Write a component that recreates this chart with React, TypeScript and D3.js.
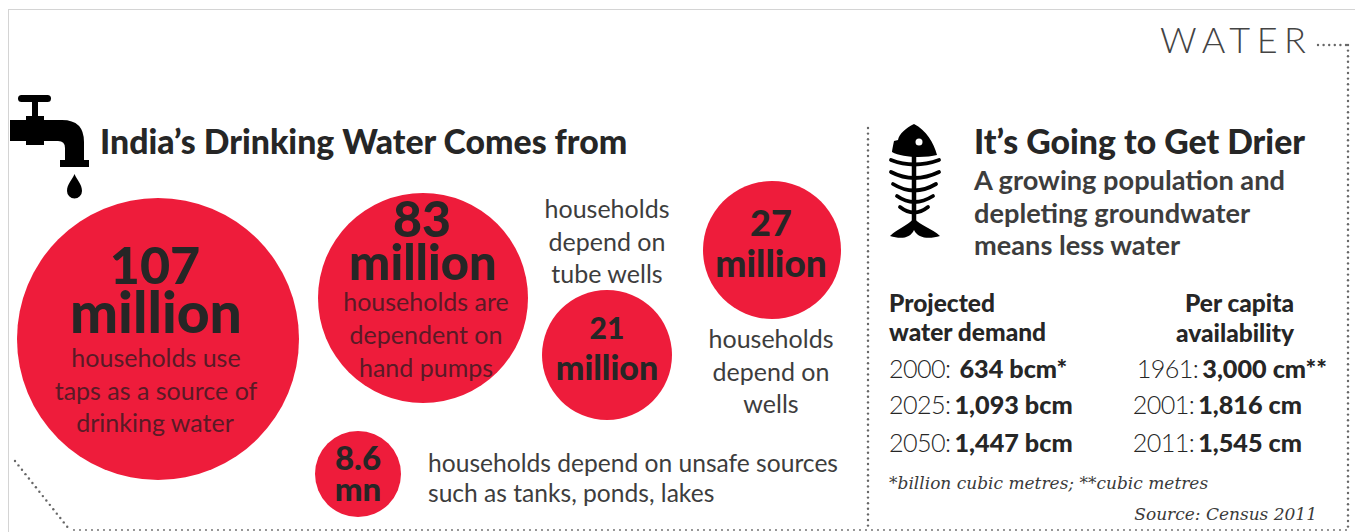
import React from "react";
import * as d3 from "d3";

const W = 1355;
const H = 532;
const RED = "#ee1c3b";
const INK = "#262626";
const SOFT = "#3d3d3d";
const ON_RED = "#5a1a26";
const SANS = "Lato, 'Open Sans', sans-serif";
const SERIF = "'DejaVu Serif', 'Liberation Serif', serif";

// Households, in millions, by source of drinking water
const sourceNames = ["Taps", "Hand pumps", "Wells", "Tube wells", "Unsafe sources"];
const households = [107, 83, 27, 21, 8.6];
const bubbleCx = [158, 423, 772, 607, 358];
const bubbleCy = [339, 298, 250, 355, 474];

// The bubbles are sized by eye rather than strictly by area, so this scale is piecewise
const sortedHouseholds = [8.6, 21, 27, 83, 107];
const bubbleRadii = [43, 65, 69, 105, 141];
const radius = d3.scaleLinear().domain(sortedHouseholds).range(bubbleRadii);

const demandYears = ["2000:", "2025:", "2050:"];
const demandValues = ["634 bcm*", "1,093 bcm", "1,447 bcm"];
const demandGaps = [9, 4, 4];
const availabilityYears = ["1961:", "2001:", "2011:"];
const availabilityValues = ["3,000 cm**", "1,816 cm", "1,545 cm"];
const availabilityRight = [1327, 1302, 1302];
const rowBaselines = [378, 414, 452];

type Line = { t: string; x: number; y: number; size: number; weight?: number; fill?: string; anchor?: string; family?: string; italic?: boolean; spacing?: number };

const textLines: Line[] = [
  { t: "India’s Drinking Water Comes from", x: 100, y: 154, size: 33.8, weight: 900, anchor: "start" },
  { t: "107", x: 155, y: 284, size: 52, weight: 900 },
  { t: "million", x: 156, y: 333, size: 57, weight: 900 },
  { t: "households use", x: 156, y: 367, size: 25, fill: ON_RED },
  { t: "taps as a source of", x: 156, y: 400, size: 25, fill: ON_RED },
  { t: "drinking water", x: 155, y: 432, size: 25, fill: ON_RED },
  { t: "83", x: 422, y: 237, size: 50, weight: 900 },
  { t: "million", x: 423, y: 280, size: 49, weight: 900 },
  { t: "households are", x: 426, y: 311, size: 25, fill: ON_RED },
  { t: "dependent on", x: 426, y: 344, size: 25, fill: ON_RED },
  { t: "hand pumps", x: 426, y: 377, size: 25, fill: ON_RED },
  { t: "households", x: 607, y: 218, size: 25, fill: SOFT },
  { t: "depend on", x: 607, y: 251, size: 25, fill: SOFT },
  { t: "tube wells", x: 607, y: 283, size: 25, fill: SOFT },
  { t: "21", x: 607, y: 339, size: 30, weight: 900 },
  { t: "million", x: 607, y: 380, size: 34, weight: 900 },
  { t: "27", x: 771, y: 236, size: 36, weight: 900 },
  { t: "million", x: 771, y: 277, size: 37, weight: 900 },
  { t: "households", x: 771, y: 348, size: 25, fill: SOFT },
  { t: "depend on", x: 771, y: 381, size: 25, fill: SOFT },
  { t: "wells", x: 771, y: 413, size: 25, fill: SOFT },
  { t: "8.6", x: 358, y: 470, size: 33, weight: 900 },
  { t: "mn", x: 358, y: 501, size: 33, weight: 900 },
  { t: "households depend on unsafe sources", x: 428, y: 472, size: 24.6, anchor: "start", fill: SOFT },
  { t: "such as tanks, ponds, lakes", x: 428, y: 502, size: 24.6, anchor: "start", fill: SOFT },
  { t: "It’s Going to Get Drier", x: 974, y: 154, size: 33.8, weight: 900, anchor: "start" },
  { t: "A growing population and", x: 974, y: 190, size: 27.2, weight: 700, anchor: "start", fill: SOFT },
  { t: "depleting groundwater", x: 974, y: 223, size: 27.2, weight: 700, anchor: "start", fill: SOFT },
  { t: "means less water", x: 974, y: 255, size: 27.2, weight: 700, anchor: "start", fill: SOFT },
  { t: "Projected", x: 889, y: 312, size: 24.5, weight: 900, anchor: "start" },
  { t: "water demand", x: 889, y: 341, size: 24.5, weight: 900, anchor: "start" },
  { t: "Per capita", x: 1294, y: 312, size: 24.5, weight: 900, anchor: "end" },
  { t: "availability", x: 1294, y: 342, size: 24.5, weight: 900, anchor: "end" },
  { t: "*billion cubic metres; **cubic metres", x: 889, y: 489, size: 17, family: SERIF, italic: true, anchor: "start", fill: "#3a3a3a" },
  { t: "Source: Census 2011", x: 1317, y: 520, size: 17, family: SERIF, italic: true, anchor: "end", fill: "#3a3a3a" },
  { t: "WATER", x: 1160, y: 53, size: 36, weight: 300, anchor: "start", fill: "#444", spacing: 6.5 },
];

// A dotted rule drawn as a line of round dots
function Dotted({ x1, y1, x2, y2, step = 5.6, r = 1.2 }: { x1: number; y1: number; x2: number; y2: number; step?: number; r?: number }) {
  const len = Math.hypot(x2 - x1, y2 - y1);
  const along = d3.range(0, len + 0.01, step);
  return (
    <g fill="#666">
      {along.map((d) => (
        <circle key={d} cx={x1 + ((x2 - x1) * d) / len} cy={y1 + ((y2 - y1) * d) / len} r={r} />
      ))}
    </g>
  );
}

function Tap() {
  return (
    <g fill="#000">
      <rect x={18} y={95} width={33} height={7} rx={3.5} />
      <rect x={32} y={100} width={6} height={16} />
      <path d="M10 120 H26 V116 H44 V120 H62 Q84 120 84 142 V160 H89 V167 H60 V160 H65 V148 Q65 141 58 141 H44 V145 H26 V141 H10 Z" />
      <path d="M74.500 174 C77 180 82 184 82 191 A7.500 7.500 0 0 1 67 191 C67 184 72 180 74.500 174 Z" />
    </g>
  );
}

function Fish() {
  const ribs = [
    [891, 160, 914, 169, 939, 160],
    [891, 172, 914, 184, 939, 172],
    [893, 184, 914, 197, 936, 184],
    [897, 196, 914, 208, 933, 196],
    [900, 207, 914, 218, 928, 207],
  ];
  return (
    <g>
      <path d="M914 124 C906 128 899 134 898 140 L894 141 C893 146 892 150 892 152 C902 158 926 158 937 155 C934 143 926 130 914 124 Z" fill="#000" />
      <circle cx={919} cy={142} r={3.500} fill="#fff" />
      <line x1={914} y1={150} x2={914} y2={226} stroke="#000" strokeWidth={4.500} />
      {ribs.map((r, i) => (
        <path key={i} d={`M${r[0]} ${r[1]} Q${r[2]} ${r[3]} ${r[4]} ${r[5]}`} fill="none" stroke="#000" strokeWidth={3.800} strokeLinecap="round" />
      ))}
      <path d="M914 218 C908 226 898 228 890 236 C900 239 910 239 914 230 C918 239 930 239 940 236 C932 228 920 226 914 218 Z" fill="#000" />
    </g>
  );
}

export default function App() {
  return (
    <svg
      width={W}
      height={H}
      viewBox={`0 0 ${W} ${H}`}
      style={{ position: "absolute", left: 0, top: 0, background: "#fff", display: "block" }}
    >
      <rect x={8.500} y={9.500} width={1400} height={600} fill="none" stroke="#d4d4d4" />

      <Dotted x1={1318} y1={45} x2={1348} y2={45} />
      <Dotted x1={1348} y1={45} x2={1348} y2={532} />
      <Dotted x1={15} y1={461} x2={69} y2={529} />
      <Dotted x1={74} y1={530} x2={1348} y2={530} step={6} r={0.9} />
      <Dotted x1={868} y1={128} x2={868} y2={530} />

      <Tap />
      <Fish />

      {households.map((v, i) => (
        <circle key={sourceNames[i]} cx={bubbleCx[i]} cy={bubbleCy[i]} r={radius(v)} fill={RED} />
      ))}

      {textLines.map((l) => (
        <text
          key={l.t + l.x}
          x={l.x}
          y={l.y}
          fontSize={l.size}
          fontWeight={l.weight ?? 400}
          fontFamily={l.family ?? SANS}
          fontStyle={l.italic ? "italic" : "normal"}
          textAnchor={(l.anchor ?? "middle") as "start"}
          letterSpacing={l.spacing}
          fill={l.fill ?? INK}
        >
          {l.t}
        </text>
      ))}

      {demandYears.map((year, i) => (
        <text key={year} x={889} y={rowBaselines[i]} fontSize={25.2} fontFamily={SANS} fill={INK}>
          <tspan fontWeight={300} letterSpacing={-0.6}>{year}</tspan>
          <tspan fontWeight={900} dx={demandGaps[i]}>{demandValues[i]}</tspan>
        </text>
      ))}
      {availabilityYears.map((year, i) => (
        <text key={year} x={availabilityRight[i]} y={rowBaselines[i]} textAnchor="end" fontSize={25.2} fontFamily={SANS} fill={INK}>
          <tspan fontWeight={300} letterSpacing={-0.6}>{year}</tspan>
          <tspan fontWeight={900} dx={4}>{availabilityValues[i]}</tspan>
        </text>
      ))}
    </svg>
  );
}
